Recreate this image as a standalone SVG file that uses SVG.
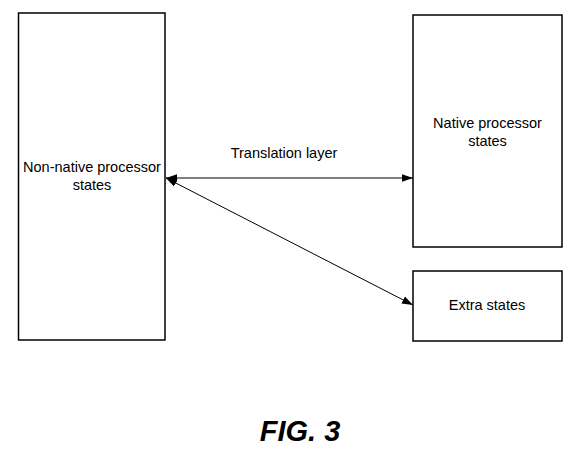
<svg xmlns="http://www.w3.org/2000/svg" width="574" height="451" viewBox="0 0 574 451">
<defs>
<style>
.box{fill:#fff;stroke:#000;stroke-width:1.5}
.t{font-family:"Liberation Sans",Arial,sans-serif;font-size:14.5px;fill:#000;text-anchor:middle}
.c{stroke:#000;stroke-width:1;fill:none;marker-start:url(#a);marker-end:url(#a)}
</style>
<marker id="a" viewBox="0 0 10 10" refX="10" refY="5" markerWidth="11" markerHeight="11" markerUnits="userSpaceOnUse" orient="auto-start-reverse">
<path d="M0,1.5 L10,5 L0,8.5 z" fill="#000"/>
</marker>
</defs>
<rect width="574" height="451" fill="#fff"/>
<g id="nonnative">
<rect class="box" x="18.5" y="13" width="146.5" height="327"/>
<text class="t" x="92" y="172">Non-native processor</text>
<text class="t" x="92" y="190">states</text>
</g>
<g id="native">
<rect class="box" x="413" y="15" width="149" height="232"/>
<text class="t" x="487.5" y="128">Native processor</text>
<text class="t" x="487.5" y="146">states</text>
</g>
<g id="extra">
<rect class="box" x="413" y="271" width="149" height="70"/>
<text class="t" x="487" y="310">Extra states</text>
</g>
<g id="connectors">
<line class="c" x1="166" y1="178" x2="413" y2="178"/>
<line class="c" x1="166" y1="178" x2="413" y2="305"/>
</g>
<text class="t" x="284" y="158">Translation layer</text>
<text x="300" y="441" style="font-family:'Liberation Sans',Arial,sans-serif;font-size:29px;font-weight:bold;font-style:italic;text-anchor:middle">FIG. 3</text>
</svg>
